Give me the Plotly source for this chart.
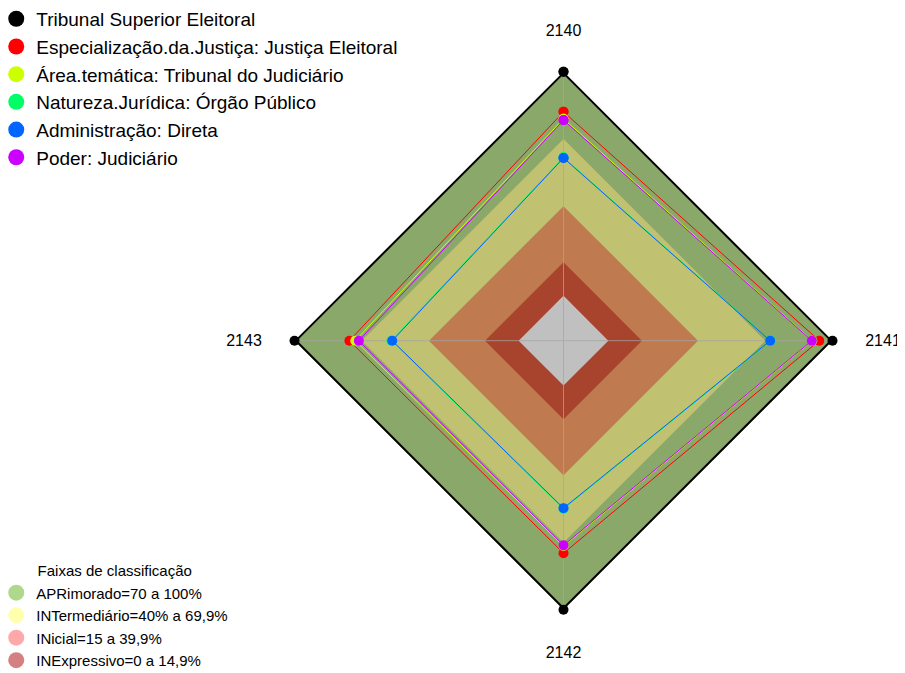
import plotly.graph_objects as go

# eixos (indicadores)
indicadores = ['2140', '2141', '2142', '2143']

# series (valores em %)
series_nomes = [
    'Tribunal Superior Eleitoral',
    'Especialização.da.Justiça: Justiça Eleitoral',
    'Área.temática: Tribunal do Judiciário',
    'Natureza.Jurídica: Órgão Público',
    'Administração: Direta',
    'Poder: Judiciário',
]
tse = [100, 100, 100, 100]
especializacao = [82.1, 94.1, 74.8, 75.5]
area_tematica = [79.0, 91.0, 71.6, 72.9]
natureza = [61.8, 72.4, 55.0, 56.8]
administracao = [61.5, 72.2, 54.7, 56.4]
poder = [78.4, 90.8, 71.3, 71.3]
series_cores = ['#000000', '#FF0000', '#CCFF00', '#00FF66', '#0066FF', '#CC00FF']

# faixas de classificacao
faixas_nomes = ['APRimorado=70 a 100%', 'INTermediário=40% a 69,9%',
                'INicial=15 a 39,9%', 'INExpressivo=0 a 14,9%']
faixas_topo = [100, 70, 40, 15]
faixas_cores = ['#89A86A', '#C1C172', '#C07A50', '#A8432E']
faixas_legenda = ['rgba(140,200,90,0.7)', 'rgba(255,255,120,0.6)',
                  'rgba(255,110,110,0.6)', 'rgba(190,60,60,0.65)']
centro_valor = 0
centro_cor = '#C0C0C0'
escala = [-20, 100]

fonte = 'Arial, Liberation Sans, sans-serif'

fig = go.Figure()

def fechar(v):
    return list(v) + [v[0]]

theta = fechar(indicadores)

# bandas de fundo
for topo, cor in zip(faixas_topo, faixas_cores):
    fig.add_trace(go.Scatterpolar(
        r=fechar([topo] * len(indicadores)), theta=theta, mode='lines',
        fill='toself', fillcolor=cor, line=dict(width=0, color=cor),
        showlegend=False, hoverinfo='skip'))
fig.add_trace(go.Scatterpolar(
    r=fechar([centro_valor] * len(indicadores)), theta=theta, mode='lines',
    fill='toself', fillcolor=centro_cor, line=dict(width=0, color=centro_cor),
    showlegend=False, hoverinfo='skip'))

# raios (eixos) por cima das faixas
for ind in indicadores:
    fig.add_trace(go.Scatterpolar(
        r=escala, theta=[ind, ind], mode='lines',
        line=dict(color='rgba(165,165,165,0.75)', width=1),
        showlegend=False, hoverinfo='skip'))

# series
valores = [tse, especializacao, area_tematica, natureza, administracao, poder]
for nome, vals, cor in zip(series_nomes, valores, series_cores):
    largura = 4 if cor == '#000000' else 1
    fig.add_trace(go.Scatterpolar(
        r=fechar(vals), theta=theta, mode='lines+markers', name=nome,
        line=dict(color=cor, width=largura), marker=dict(size=10, color=cor),
        showlegend=False))
    fig.add_trace(go.Scatterpolar(
        r=[None], theta=[None], mode='markers', name=nome,
        marker=dict(size=18, color=cor), legend='legend'))

# legenda das faixas
for nome, cor in zip(faixas_nomes, faixas_legenda):
    fig.add_trace(go.Scatterpolar(
        r=[None], theta=[None], mode='markers', name=nome,
        marker=dict(size=17, color=cor), legend='legend2'))

fig.update_layout(
    width=905, height=673,
    margin=dict(l=0, r=0, t=0, b=0, autoexpand=False),
    paper_bgcolor='white', plot_bgcolor='white',
    font=dict(family=fonte, color='black'),
    polar=dict(
        domain=dict(x=[286.5 / 905, 824.5 / 905], y=[71.3 / 673, 609.3 / 673]),
        bgcolor='rgba(0,0,0,0)',
        gridshape='linear',
        radialaxis=dict(range=escala, showticklabels=False, showgrid=False,
                        showline=False, ticks=''),
        angularaxis=dict(direction='clockwise', rotation=90, showline=False,
                         showgrid=False,
                         ticks='outside', ticklen=29, tickcolor='rgba(0,0,0,0)',
                         tickfont=dict(size=16, family=fonte, color='black')),
    ),
    legend=dict(x=-0.013, y=1.012, xanchor='left', yanchor='top',
                font=dict(size=19, family=fonte), bgcolor='rgba(0,0,0,0)',
                tracegroupgap=0, itemsizing='trace'),
    legend2=dict(x=-0.013, y=0.006, xanchor='left', yanchor='bottom',
                 font=dict(size=15, family=fonte), bgcolor='rgba(0,0,0,0)',
                 title=dict(text='Faixas de classificação', side='top center',
                            font=dict(size=15, family=fonte)),
                 itemsizing='trace'),
)

fig.write_html('out.html')
